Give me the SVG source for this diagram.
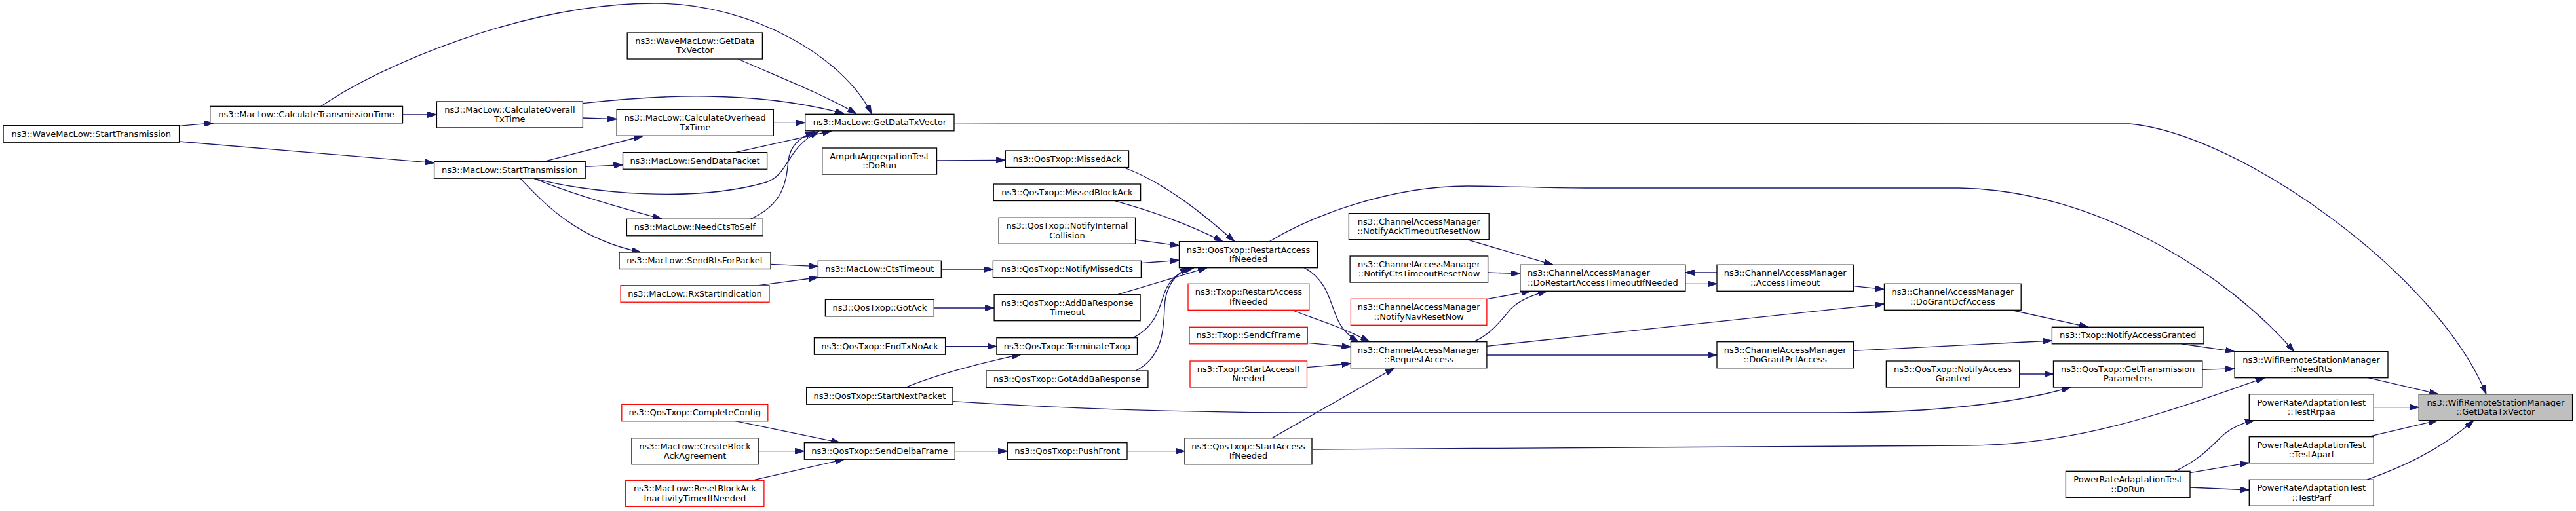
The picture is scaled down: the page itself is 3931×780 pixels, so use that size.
<svg xmlns="http://www.w3.org/2000/svg" width="3931" height="780" viewBox="0 0 3931 780">
<style>
.n rect{fill:#fff;stroke:#000;stroke-width:1.33}
.n.r rect{stroke:#f00}
.n.g rect{fill:#bfbfbf}
text{font-family:"DejaVu Sans","Liberation Sans",sans-serif;font-size:13px;fill:#000;text-anchor:middle}
text.l{text-anchor:start}
#edges path{fill:none;stroke:#191970;stroke-width:1.33;marker-end:url(#ah)}
</style>
<defs>
<marker id="ah" viewBox="0 0 14 9" refX="14" refY="4.5" markerWidth="14" markerHeight="9" markerUnits="userSpaceOnUse" orient="auto">
<path d="M0,0 L14,4.5 L0,9 z" fill="#191970" stroke="#191970" stroke-width="1"/>
</marker>
</defs>
<rect x="0" y="0" width="3931" height="780" fill="#fff"/>
<g id="edges">
<path d="M273.6,192.3 L326,187.7"/>
<path d="M273.6,216 L662.6,248.6"/>
<path d="M614.5,175 L666.4,175"/>
<path d="M490,162.3 C580,100 800,5 1000,5 C1150,5 1290,90 1330,174"/>
<path d="M1126.4,90 C1180,114 1260,145 1307,174"/>
<path d="M889.4,157.7 C960,150 1020,146 1080,147 C1160,148 1230,158 1288,173.5"/>
<path d="M889.4,180 L941.2,181.7"/>
<path d="M1180.3,187.3 L1228.7,187.3"/>
<path d="M829.7,246.7 L981,207.5"/>
<path d="M893.2,254.3 L950.5,251.7"/>
<path d="M1122.2,232.7 L1269,199.8"/>
<path d="M815,272.3 C900,295 1060,310 1170,278 C1205,265 1200,225 1250,200.5"/>
<path d="M1145.3,334.3 C1200,310 1200,270 1203,245 C1206,222 1220,210 1243,200.5"/>
<path d="M815,272.3 C870,295 940,315 1010,334.3"/>
<path d="M794,272.3 C830,310 880,365 978,385"/>
<path d="M1176,403.3 L1248.4,406.7"/>
<path d="M1158,435.7 L1248.4,423.5"/>
<path d="M1122.2,642.7 L1282,675.7"/>
<path d="M1157.1,688.7 L1227.4,688.7"/>
<path d="M1147.4,733.3 L1288,701.3"/>
<path d="M1429.5,245 L1534.3,244.3"/>
<path d="M1716,256 C1780,280 1840,330 1884,368.7"/>
<path d="M1701.4,306.7 C1760,323 1820,345 1866,368.7"/>
<path d="M1732.6,366 L1799.5,375"/>
<path d="M1741.4,401.7 L1799.5,397.3"/>
<path d="M1705.6,449.7 L1842,408.7"/>
<path d="M1728.8,515.7 C1770,495 1770,460 1780,440 C1790,420 1805,413 1822,408.7"/>
<path d="M1733,566 C1775,545 1776,500 1777,470 C1778,440 1790,420 1815,408.7"/>
<path d="M1436.3,411 L1515.4,411"/>
<path d="M1425.3,470 L1517.1,470"/>
<path d="M1442.6,528.7 L1520.9,528.7"/>
<path d="M1381.5,591.7 C1420,575 1490,555 1558,541.2"/>
<path d="M1454,612.7 C1600,622 1800,630 2000,630 L2800,630 C2950,630 3080,615 3160,591"/>
<path d="M1457.3,688.7 L1537.3,688.7"/>
<path d="M1720,688.7 L1808,688.7"/>
<path d="M1941.3,668.7 L2128,561.7"/>
<path d="M2002.9,686 L3000,680 C3180,680 3330,620 3456,576.7"/>
<path d="M1937,368.7 C2000,330 2120,284 2240,284 C2300,284 2350,287 2420,287 L2990,287 C3200,290 3400,420 3501,536.7"/>
<path d="M1990,408.3 C2030,430 2030,470 2045,495 C2052,507 2062,515 2073,521.7"/>
<path d="M1973.4,474 C2010,488 2050,500 2090,521.7"/>
<path d="M1995.3,523.3 L2061.4,529.5"/>
<path d="M1994.5,560.7 L2061.4,555"/>
<path d="M2238.6,365.7 L2370,404.3"/>
<path d="M2270.6,416 L2319.8,417.7"/>
<path d="M2268.9,456.7 L2336,444.3"/>
<path d="M2249,521.7 C2275,510 2290,490 2305,472 C2320,457 2340,450 2361,444.3"/>
<path d="M2620,416 L2571.9,416"/>
<path d="M2571.9,433.3 L2620,433.3"/>
<path d="M2268.9,528.3 L2875.5,464"/>
<path d="M2268.9,542 L2620,542"/>
<path d="M2828.3,436.7 L2875.5,441.7"/>
<path d="M3072.4,474 L3187,499.3"/>
<path d="M2828.3,535.3 L3131.4,520"/>
<path d="M3081.7,571 L3133.5,571"/>
<path d="M3329.4,525 L3410.1,536.7"/>
<path d="M3360.8,564.3 L3410.1,562.7"/>
<path d="M3614,576.7 L3721,601.7"/>
<path d="M1456,187.7 L3250,189 C3420,205 3720,420 3794,601.7"/>
<path d="M3622.3,621.7 L3691.3,621.7"/>
<path d="M3613.9,666.7 L3720,641.7"/>
<path d="M3611.8,732.3 C3660,715 3720,690 3775,641.7"/>
<path d="M3318.9,719.3 C3360,700 3375,680 3395,662 C3410,650 3425,645 3440,641.7"/>
<path d="M3342,721.7 L3432.3,706.3"/>
<path d="M3342,744 L3432.3,748"/>
</g>
<g id="n1" class="n"><rect x="5" y="191.7" width="268.6" height="25.5"/><text x="139.3" y="208.7">ns3::WaveMacLow::StartTransmission</text></g>
<g id="n2" class="n"><rect x="320.7" y="162.3" width="293.8" height="25.5"/><text x="467.6" y="179.3">ns3::MacLow::CalculateTransmissionTime</text></g>
<g id="n3" class="n"><rect x="666.4" y="155" width="223" height="40"/><text x="777.9" y="171.8">ns3::MacLow::CalculateOverall</text><text x="777.9" y="186.3">TxTime</text></g>
<g id="n4" class="n"><rect x="662.6" y="246.7" width="230.6" height="25.5"/><text x="777.9" y="263.7">ns3::MacLow::StartTransmission</text></g>
<g id="n5" class="n"><rect x="957.2" y="50" width="206.2" height="40"/><text x="1060.3" y="66.8">ns3::WaveMacLow::GetData</text><text x="1060.3" y="81.3">TxVector</text></g>
<g id="n6" class="n"><rect x="941.2" y="167.3" width="239.1" height="40"/><text x="1060.75" y="184.1">ns3::MacLow::CalculateOverhead</text><text x="1060.75" y="198.6">TxTime</text></g>
<g id="n7" class="n"><rect x="950.5" y="232.7" width="220.1" height="25.5"/><text x="1060.55" y="249.7">ns3::MacLow::SendDataPacket</text></g>
<g id="n8" class="n"><rect x="956.4" y="334.3" width="207.9" height="25.5"/><text x="1060.35" y="351.3">ns3::MacLow::NeedCtsToSelf</text></g>
<g id="n9" class="n"><rect x="945" y="385" width="231" height="25.5"/><text x="1060.5" y="402">ns3::MacLow::SendRtsForPacket</text></g>
<g id="n10" class="n r"><rect x="947.1" y="435.7" width="226.9" height="25.5"/><text x="1060.55" y="452.7">ns3::MacLow::RxStartIndication</text></g>
<g id="n11" class="n r"><rect x="948.8" y="617.3" width="223" height="25.5"/><text x="1060.3" y="634.3">ns3::QosTxop::CompleteConfig</text></g>
<g id="n12" class="n"><rect x="964" y="668.7" width="193.1" height="40"/><text x="1060.55" y="685.5">ns3::MacLow::CreateBlock</text><text x="1060.55" y="700">AckAgreement</text></g>
<g id="n13" class="n r"><rect x="954.7" y="733.3" width="211.2" height="40"/><text x="1060.3" y="750.1">ns3::MacLow::ResetBlockAck</text><text x="1060.3" y="764.6">InactivityTimerIfNeeded</text></g>
<g id="n14" class="n"><rect x="1228.7" y="174.3" width="227.3" height="25.5"/><text x="1342.35" y="191.3">ns3::MacLow::GetDataTxVector</text></g>
<g id="n15" class="n"><rect x="1254.7" y="226" width="174.8" height="40"/><text x="1342.1" y="242.8">AmpduAggregationTest</text><text x="1342.1" y="257.3">::DoRun</text></g>
<g id="n16" class="n"><rect x="1248.4" y="398.3" width="187.9" height="25.5"/><text x="1342.35" y="415.3">ns3::MacLow::CtsTimeout</text></g>
<g id="n17" class="n"><rect x="1259.4" y="457.3" width="165.9" height="25.5"/><text x="1342.35" y="474.3">ns3::QosTxop::GotAck</text></g>
<g id="n18" class="n"><rect x="1242.5" y="515.7" width="200.1" height="25.5"/><text x="1342.55" y="532.7">ns3::QosTxop::EndTxNoAck</text></g>
<g id="n19" class="n"><rect x="1230.7" y="591.7" width="223.3" height="25.5"/><text x="1342.35" y="608.7">ns3::QosTxop::StartNextPacket</text></g>
<g id="n20" class="n"><rect x="1227.4" y="675.7" width="229.9" height="25.5"/><text x="1342.35" y="692.7">ns3::QosTxop::SendDelbaFrame</text></g>
<g id="n21" class="n"><rect x="1534.3" y="230" width="188.2" height="25.5"/><text x="1628.4" y="247">ns3::QosTxop::MissedAck</text></g>
<g id="n22" class="n"><rect x="1516.2" y="281" width="224.4" height="25.5"/><text x="1628.4" y="298">ns3::QosTxop::MissedBlockAck</text></g>
<g id="n23" class="n"><rect x="1524.2" y="332.3" width="208.4" height="40"/><text x="1628.4" y="349.1">ns3::QosTxop::NotifyInternal</text><text x="1628.4" y="363.6">Collision</text></g>
<g id="n24" class="n"><rect x="1515.4" y="398.3" width="226" height="25.5"/><text x="1628.4" y="415.3">ns3::QosTxop::NotifyMissedCts</text></g>
<g id="n25" class="n"><rect x="1517.1" y="449.7" width="223" height="40"/><text x="1628.6" y="466.5">ns3::QosTxop::AddBaResponse</text><text x="1628.6" y="481">Timeout</text></g>
<g id="n26" class="n"><rect x="1520.9" y="515.7" width="214.6" height="25.5"/><text x="1628.2" y="532.7">ns3::QosTxop::TerminateTxop</text></g>
<g id="n27" class="n"><rect x="1504.9" y="566" width="247" height="25.5"/><text x="1628.4" y="583">ns3::QosTxop::GotAddBaResponse</text></g>
<g id="n28" class="n"><rect x="1537.3" y="675.7" width="182.7" height="25.5"/><text x="1628.65" y="692.7">ns3::QosTxop::PushFront</text></g>
<g id="n29" class="n"><rect x="1799.5" y="368.7" width="211" height="40"/><text x="1905" y="385.5">ns3::QosTxop::RestartAccess</text><text x="1905" y="400">IfNeeded</text></g>
<g id="n30" class="n r"><rect x="1813" y="433.3" width="184.8" height="40"/><text x="1905.4" y="450.1">ns3::Txop::RestartAccess</text><text x="1905.4" y="464.6">IfNeeded</text></g>
<g id="n31" class="n r"><rect x="1815" y="499.3" width="180.3" height="25.5"/><text x="1905.15" y="516.3">ns3::Txop::SendCfFrame</text></g>
<g id="n32" class="n r"><rect x="1816" y="551" width="178.5" height="40"/><text x="1905.25" y="567.8">ns3::Txop::StartAccessIf</text><text x="1905.25" y="582.3">Needed</text></g>
<g id="n33" class="n"><rect x="1808" y="668.7" width="194" height="40"/><text x="1905" y="685.5">ns3::QosTxop::StartAccess</text><text x="1905" y="700">IfNeeded</text></g>
<g id="n34" class="n"><rect x="2058.4" y="325.7" width="213.8" height="40"/><text x="2165.3" y="342.5">ns3::ChannelAccessManager</text><text x="2165.3" y="357">::NotifyAckTimeoutResetNow</text></g>
<g id="n35" class="n"><rect x="2060.1" y="391" width="210.5" height="40"/><text x="2165.35" y="407.8">ns3::ChannelAccessManager</text><text x="2165.35" y="422.3">::NotifyCtsTimeoutResetNow</text></g>
<g id="n36" class="n r"><rect x="2061.4" y="456.3" width="207.5" height="40"/><text x="2165.15" y="473.1">ns3::ChannelAccessManager</text><text x="2165.15" y="487.6">::NotifyNavResetNow</text></g>
<g id="n37" class="n"><rect x="2061.4" y="521.7" width="207.5" height="40"/><text x="2165.15" y="538.5">ns3::ChannelAccessManager</text><text x="2165.15" y="553">::RequestAccess</text></g>
<g id="n38" class="n"><rect x="2319.8" y="404.3" width="252.1" height="40"/><text class="l" x="2331" y="421.1">ns3::ChannelAccessManager</text><text x="2445.85" y="435.6">::DoRestartAccessTimeoutIfNeeded</text></g>
<g id="n39" class="n"><rect x="2620" y="404.3" width="208.3" height="40"/><text x="2724.15" y="421.1">ns3::ChannelAccessManager</text><text x="2724.15" y="435.6">::AccessTimeout</text></g>
<g id="n40" class="n"><rect x="2620" y="521.7" width="208.3" height="40"/><text x="2724.15" y="538.5">ns3::ChannelAccessManager</text><text x="2724.15" y="553">::DoGrantPcfAccess</text></g>
<g id="n41" class="n"><rect x="2875.5" y="433.3" width="208.7" height="40"/><text x="2979.85" y="450.1">ns3::ChannelAccessManager</text><text x="2979.85" y="464.6">::DoGrantDcfAccess</text></g>
<g id="n42" class="n"><rect x="2878.4" y="551" width="203.3" height="40"/><text x="2980.05" y="567.8">ns3::QosTxop::NotifyAccess</text><text x="2980.05" y="582.3">Granted</text></g>
<g id="n43" class="n"><rect x="3131.4" y="499.3" width="231.5" height="25.5"/><text x="3247.15" y="516.3">ns3::Txop::NotifyAccessGranted</text></g>
<g id="n44" class="n"><rect x="3133.5" y="551" width="227.3" height="40"/><text x="3247.15" y="567.8">ns3::QosTxop::GetTransmission</text><text x="3247.15" y="582.3">Parameters</text></g>
<g id="n45" class="n"><rect x="3152.4" y="719.3" width="189.6" height="40"/><text x="3247.2" y="736.1">PowerRateAdaptationTest</text><text x="3247.2" y="750.6">::DoRun</text></g>
<g id="n46" class="n"><rect x="3410.1" y="536.7" width="233.9" height="40"/><text x="3527.05" y="553.5">ns3::WifiRemoteStationManager</text><text x="3527.05" y="568">::NeedRts</text></g>
<g id="n47" class="n"><rect x="3432.3" y="601.7" width="190" height="40"/><text x="3527.3" y="618.5">PowerRateAdaptationTest</text><text x="3527.3" y="633">::TestRrpaa</text></g>
<g id="n48" class="n"><rect x="3432.3" y="666.7" width="190" height="40"/><text x="3527.3" y="683.5">PowerRateAdaptationTest</text><text x="3527.3" y="698">::TestAparf</text></g>
<g id="n49" class="n"><rect x="3432.3" y="732.3" width="190" height="40"/><text x="3527.3" y="749.1">PowerRateAdaptationTest</text><text x="3527.3" y="763.6">::TestParf</text></g>
<g id="n50" class="n g"><rect x="3691.3" y="601.7" width="234.3" height="40"/><text x="3808.45" y="618.5">ns3::WifiRemoteStationManager</text><text x="3808.45" y="633">::GetDataTxVector</text></g>
</svg>
